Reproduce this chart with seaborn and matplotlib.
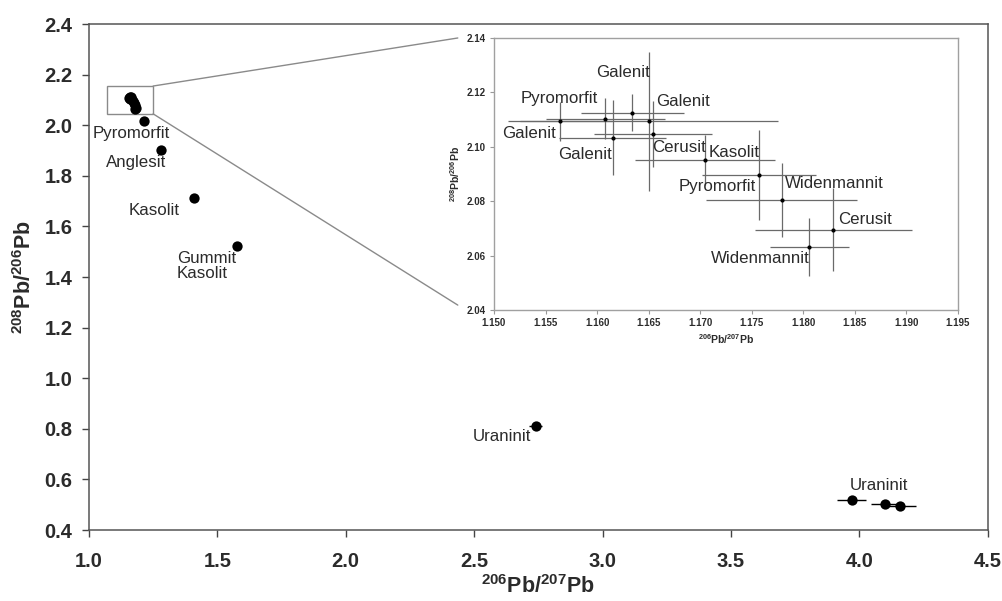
import matplotlib
matplotlib.use("Agg")
import matplotlib.pyplot as plt
from matplotlib.patches import Rectangle, ConnectionPatch
import numpy as np
import pandas as pd
import seaborn as sns

# ── inset data (206Pb/207Pb, 208Pb/206Pb with 2-sigma bars) ──
inset_x = [1.1564, 1.1650, 1.1608, 1.1634, 1.1615, 1.1654, 1.1705, 1.1757, 1.1779, 1.1829, 1.1806]
inset_y = [2.1093, 2.1093, 2.1103, 2.1126, 2.1034, 2.1047, 2.0952, 2.0897, 2.0805, 2.0695, 2.0632]
inset_xerr = [0.0050, 0.0125, 0.0058, 0.0050, 0.0052, 0.0057, 0.0068, 0.0055, 0.0073, 0.0076, 0.0038]
inset_yerr = [0.0070, 0.0256, 0.0075, 0.0067, 0.0138, 0.0123, 0.0092, 0.0166, 0.0135, 0.0153, 0.0106]

inset_labels = ["Galenit", "Pyromorfit", "Galenit", "Galenit", "Galenit", "Cerusit",
                "Kasolit", "Pyromorfit", "Widenmannit", "Cerusit", "Widenmannit"]
inset_label_x = [1.1625, 1.1563, 1.1683, 1.1534, 1.1588, 1.1679, 1.1733, 1.1717, 1.1830, 1.1860, 1.1758]
inset_label_y = [2.1274, 2.1179, 2.1167, 2.1048, 2.0970, 2.0998, 2.0979, 2.0854, 2.0866, 2.0734, 2.0590]

# ── main-plot points outside the zoom box ──
outer_x = [1.214, 1.280, 1.409, 1.576, 2.740, 3.970, 4.100, 4.160]
outer_y = [2.017, 1.902, 1.712, 1.523, 0.810, 0.520, 0.505, 0.495]
outer_xerr = [0.0, 0.0, 0.0, 0.0, 0.025, 0.057, 0.055, 0.060]

main_labels = ["Pyromorfit", "Anglesit", "Kasolit", "Gummit\nKasolit", "Uraninit", "Uraninit"]
main_label_x = [1.163, 1.183, 1.253, 1.342, 2.607, 4.078]
main_label_y = [1.969, 1.851, 1.665, 1.443, 0.768, 0.578]
main_label_ha = ["center", "center", "center", "left", "center", "center"]

zoom_box_x = [1.07, 1.25]
zoom_box_y = [2.045, 2.155]

sns.set_theme(style="ticks")
plt.rcParams["font.family"] = ["Liberation Sans", "DejaVu Sans"]
plt.rcParams["mathtext.fontset"] = "custom"
plt.rcParams["mathtext.rm"] = "Liberation Sans"
plt.rcParams["mathtext.bf"] = "Liberation Sans:bold"

TXT = "#2b2b2b"
GREY = "#8a8a8a"

fig = plt.figure(figsize=(10.03, 6.01), dpi=100)
ax = fig.add_axes([0.0887, 0.118, 0.896, 0.842])

df_main = pd.DataFrame({
    "x": inset_x + outer_x,
    "y": inset_y + outer_y,
})
ax.errorbar(outer_x, outer_y, xerr=outer_xerr, fmt="none", ecolor="black", elinewidth=1.0)
sns.scatterplot(data=df_main, x="x", y="y", ax=ax, color="black", s=55,
                edgecolor="black", linewidth=0, zorder=3)

for lab, lx, ly, ha in zip(main_labels, main_label_x, main_label_y, main_label_ha):
    ax.text(lx, ly, lab, ha=ha, va="center", fontsize=12.2, color=TXT, linespacing=0.95)

ax.add_patch(Rectangle((zoom_box_x[0], zoom_box_y[0]), zoom_box_x[1] - zoom_box_x[0],
                       zoom_box_y[1] - zoom_box_y[0], fill=False, edgecolor=GREY, lw=1.0))

ax.set_xlim(1.0, 4.5)
ax.set_ylim(0.4, 2.4)
ax.set_xticks(np.arange(1.0, 4.51, 0.5))
ax.set_yticks(np.arange(0.4, 2.41, 0.2))
ax.xaxis.set_major_formatter(matplotlib.ticker.FormatStrFormatter("%.1f"))
ax.yaxis.set_major_formatter(matplotlib.ticker.FormatStrFormatter("%.1f"))
ax.tick_params(direction="out", length=5, width=1, colors="#444444", labelcolor=TXT,
               labelsize=14.5)
ax.tick_params(axis="x", pad=11)
ax.tick_params(axis="y", pad=7)
for t in ax.get_xticklabels() + ax.get_yticklabels():
    t.set_fontweight("bold")
for sp in ax.spines.values():
    sp.set_visible(True)
    sp.set_color("#555555")
    sp.set_linewidth(1.1)
ax.set_xlabel(r"$\mathbf{^{206}Pb/^{207}Pb}$", fontsize=15.5, color=TXT, labelpad=3)
ax.set_ylabel(r"$\mathbf{^{208}Pb/^{206}Pb}$", fontsize=15.5, color=TXT, labelpad=6)

# ── inset ──
axin = fig.add_axes([0.4925, 0.4842, 0.4626, 0.4526])
axin.errorbar(inset_x, inset_y, xerr=inset_xerr, yerr=inset_yerr, fmt="none",
              ecolor="#6a6a6a", elinewidth=0.9)
sns.scatterplot(x=inset_x, y=inset_y, ax=axin, color="black", s=9, linewidth=0, zorder=3)
for lab, lx, ly in zip(inset_labels, inset_label_x, inset_label_y):
    axin.text(lx, ly, lab, ha="center", va="center", fontsize=12.2, color=TXT)

axin.set_xlim(1.150, 1.195)
axin.set_ylim(2.04, 2.14)
axin.set_xticks(np.arange(1.150, 1.1951, 0.005))
axin.set_yticks(np.arange(2.04, 2.141, 0.02))
axin.xaxis.set_major_formatter(matplotlib.ticker.FormatStrFormatter("%.3f"))
axin.yaxis.set_major_formatter(matplotlib.ticker.FormatStrFormatter("%.2f"))
axin.tick_params(direction="out", length=3, width=0.8, colors="#999999", labelcolor=TXT,
                 labelsize=7, pad=3)
for t in axin.get_xticklabels() + axin.get_yticklabels():
    t.set_fontweight("bold")
for sp in axin.spines.values():
    sp.set_visible(True)
    sp.set_color("#a0a0a0")
    sp.set_linewidth(1.0)
axin.set_xlabel(r"$\mathbf{^{206}Pb/^{207}Pb}$", fontsize=7.5, color=TXT, labelpad=3)
axin.set_ylabel(r"$\mathbf{^{208}Pb/^{206}Pb}$", fontsize=7.5, color=TXT, labelpad=3)

# connector lines from zoom box to inset
for ya, yb in [(zoom_box_y[1], 1.0), (zoom_box_y[0], 0.018)]:
    con = ConnectionPatch(xyA=(zoom_box_x[1], ya), coordsA=ax.transData,
                          xyB=(-0.078, yb), coordsB=axin.transAxes,
                          color=GREY, lw=1.0)
    fig.add_artist(con)

fig.savefig("out.png", dpi=100)
